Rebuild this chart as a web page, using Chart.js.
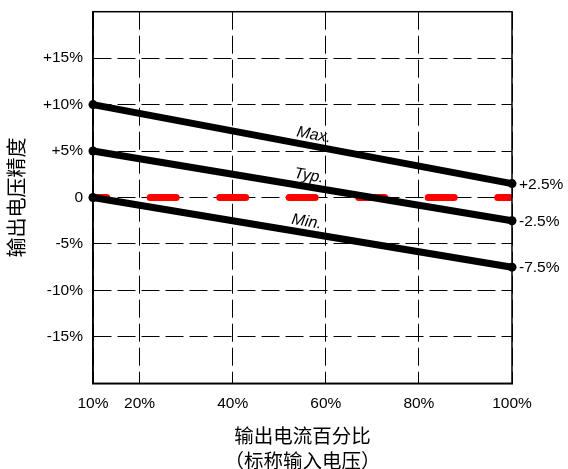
<!DOCTYPE html>
<html>
<head>
<meta charset="utf-8">
<script src="https://cdn.jsdelivr.net/npm/chart.js@4/dist/chart.umd.min.js"></script>
<style>
    body { margin: 0; background: #fff; }
    #wrap { width: 568px; height: 469px; }
</style>
</head>
<body>
<div id="wrap"><canvas id="accChart" width="568" height="469"></canvas></div>
<script>
// 输出电压精度 vs 输出电流百分比
const loadPct = [10, 100];
const maxVals = [10, 1.5];
const typVals = [5, -2.5];
const minVals = [0, -7.5];
const nominalVals = [0, 0];

const seriesNames = ['Max.', 'Typ.', 'Min.'];
const nameAt = [57, 56, 55.5];          // x position (load %) of the italic names
const endLabels = ['+2.5%', '-2.5%', '-7.5%'];

const xTicks = [10, 20, 40, 60, 80, 100];
const yMin = -20, yMax = 20, yStep = 5;

const FONT = "'Liberation Sans', Arial, 'Noto Sans CJK SC', sans-serif";

function pts(ys) {
    return loadPct.map((x, i) => ({ x: x, y: ys[i] }));
}

function blackLine(label, ys) {
    return {
        label: label,
        data: pts(ys),
        borderColor: '#000',
        backgroundColor: '#000',
        borderWidth: 7,
        borderCapStyle: 'round',
        pointRadius: 4.5,
        pointBorderWidth: 0,
        pointBackgroundColor: '#000',
        clip: 8
    };
}

// solid frame on all four sides
const framePlugin = {
    id: 'frame',
    afterDraw(chart) {
        const { ctx, chartArea: a } = chart;
        ctx.save();
        ctx.strokeStyle = '#000';
        ctx.lineWidth = 1.5;
        ctx.strokeRect(a.left, a.top, a.right - a.left, a.bottom - a.top);
        ctx.restore();
    }
};

// series names along the lines, value tags at the right ends
const lineLabels = {
    id: 'lineLabels',
    afterDatasetsDraw(chart) {
        const { ctx } = chart;
        ctx.save();
        ctx.fillStyle = '#000';
        for (let i = 0; i < 3; i++) {
            const meta = chart.getDatasetMeta(i);
            const p0 = meta.data[0], p1 = meta.data[meta.data.length - 1];
            const px = chart.scales.x.getPixelForValue(nameAt[i]);
            const t = (px - p0.x) / (p1.x - p0.x);
            const py = p0.y + t * (p1.y - p0.y);
            const ang = Math.atan2(p1.y - p0.y, p1.x - p0.x);

            ctx.save();
            ctx.translate(px, py);
            ctx.rotate(ang);
            ctx.font = 'italic 16px ' + FONT;
            ctx.textAlign = 'center';
            ctx.textBaseline = 'middle';
            ctx.fillText(seriesNames[i], 0, -11);
            ctx.restore();

            ctx.font = '15.5px ' + FONT;
            ctx.textAlign = 'left';
            ctx.textBaseline = 'middle';
            ctx.fillText(endLabels[i], p1.x + 7, p1.y + 1);
        }
        ctx.restore();
    }
};

new Chart(document.getElementById('accChart'), {
    type: 'line',
    data: {
        datasets: [
            blackLine('Max.', maxVals),
            blackLine('Typ.', typVals),
            blackLine('Min.', minVals),
            {
                label: 'nominal',
                data: pts(nominalVals),
                borderColor: '#ff0000',
                borderWidth: 7,
                borderCapStyle: 'round',
                borderDash: [26, 43.5],
                borderDashOffset: 12.3,
                pointRadius: 0,
                clip: 0
            }
        ]
    },
    options: {
        responsive: false,
        animation: false,
        layout: { padding: { top: 11.7, right: 56, left: 0, bottom: 0 } },
        plugins: {
            legend: { display: false },
            tooltip: { enabled: false }
        },
        scales: {
            x: {
                type: 'linear',
                min: loadPct[0],
                max: loadPct[loadPct.length - 1],
                afterBuildTicks: s => { s.ticks = xTicks.map(v => ({ value: v })); },
                afterFit: s => { s.height = 85.7; s.paddingLeft = 0; s.paddingRight = 0; },
                grid: { color: '#000', lineWidth: 1, drawTicks: false },
                border: { color: '#000', width: 1.5, dash: [18, 6] },
                ticks: {
                    color: '#000',
                    padding: 11,
                    maxRotation: 0,
                    autoSkip: false,
                    font: { family: FONT, size: 15.5 },
                    callback: v => v + '%'
                },
                title: {
                    display: true,
                    text: ['输出电流百分比', '（标称输入电压）'],
                    color: '#000',
                    font: { family: FONT, size: 19.5, lineHeight: 25 / 19.5 },
                    padding: { top: 0, bottom: -6 }
                }
            },
            y: {
                min: yMin,
                max: yMax,
                afterFit: s => { s.width = 93; s.paddingTop = 0; s.paddingBottom = 0; },
                grid: { color: '#000', lineWidth: 1, drawTicks: false },
                border: { color: '#000', width: 1.5, dash: [18, 6] },
                ticks: {
                    stepSize: yStep,
                    color: '#000',
                    padding: 10,
                    font: { family: FONT, size: 15.5 },
                    callback: v => (v === yMin || v === yMax) ? '' : (v > 0 ? '+' + v + '%' : (v === 0 ? '0' : v + '%'))
                },
                title: {
                    display: true,
                    text: '输出电压精度',
                    color: '#000',
                    font: { family: FONT, size: 20 },
                    padding: { top: 6, bottom: 0 }
                }
            }
        }
    },
    plugins: [framePlugin, lineLabels]
});
</script>
</body>
</html>
